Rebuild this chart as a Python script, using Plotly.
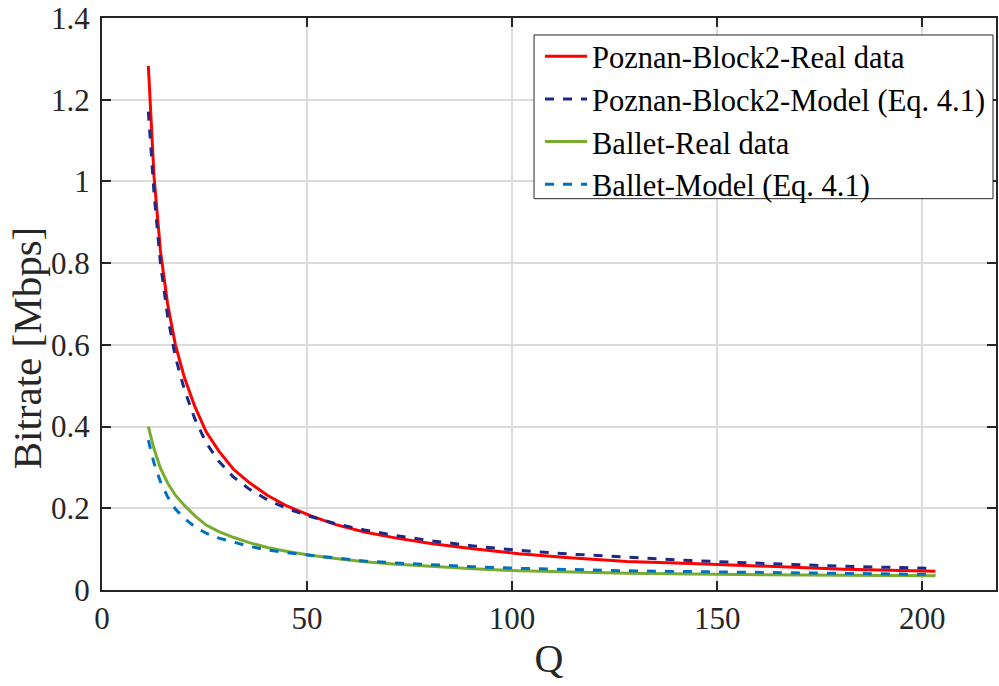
import plotly.graph_objects as go

q = [11.3, 12.7, 14.25, 16.0, 17.9, 20.1, 22.6, 25.4, 28.5, 32.0, 35.9, 40.3, 45.2,
     50.8, 57.0, 64.0, 71.8, 80.6, 90.5, 101.6, 114.0, 128.0, 143.7, 161.3, 181.0, 203.2]

poznan_real = [1.283, 1.01, 0.83, 0.70, 0.60, 0.52, 0.45, 0.387, 0.34, 0.296, 0.263, 0.232, 0.205,
               0.182, 0.160, 0.142, 0.127, 0.113, 0.101, 0.089, 0.079, 0.070, 0.065, 0.058, 0.051, 0.046]
poznan_model = [1.171, 0.97, 0.80, 0.67, 0.57, 0.49, 0.42, 0.36, 0.315, 0.277, 0.247, 0.221, 0.199,
                0.180, 0.162, 0.147, 0.133, 0.120, 0.108, 0.097, 0.088, 0.080, 0.072, 0.065, 0.058, 0.053]
ballet_real = [0.40, 0.345, 0.298, 0.262, 0.232, 0.207, 0.182, 0.159, 0.143, 0.129, 0.116, 0.104, 0.094,
               0.085, 0.077, 0.069, 0.063, 0.057, 0.052, 0.047, 0.044, 0.041, 0.039, 0.037, 0.036, 0.035]
ballet_model = [0.367, 0.31, 0.265, 0.228, 0.198, 0.175, 0.155, 0.139, 0.127, 0.117, 0.107, 0.098, 0.091,
                0.085, 0.078, 0.071, 0.066, 0.061, 0.057, 0.053, 0.050, 0.047, 0.045, 0.043, 0.040, 0.038]

names = ["Poznan-Block2-Real data", "Poznan-Block2-Model (Eq. 4.1)",
         "Ballet-Real data", "Ballet-Model (Eq. 4.1)"]
colors = ["#FF0000", "#1B2A87", "#77AC30", "#0072BD"]
dashes = ["solid", "dash", "solid", "dash"]
series = [poznan_real, poznan_model, ballet_real, ballet_model]

fig = go.Figure()
for nm, ys, c, d in zip(names, series, colors, dashes):
    fig.add_trace(go.Scatter(x=q, y=ys, mode="lines", name=nm,
                             line=dict(color=c, width=3, dash=d)))

font_family = "Liberation Serif, Times New Roman, serif"
axis_common = dict(showline=True, linecolor="#262626", linewidth=2, mirror="allticks",
                   ticks="inside", ticklen=9, tickwidth=2, tickcolor="#262626",
                   showgrid=True, gridcolor="#DCDCDC", gridwidth=1.5, zeroline=False,
                   ticklabeloverflow="allow",
                   tickfont=dict(family=font_family, size=31, color="#262626"))

# plot-area geometry (pixels in the 999x686 page)
L, R, T, B = 102, 998, 17, 590
def px_x(p): return (p - L) / (R - L)
def px_y(p): return (B - p) / (B - T)

fig.update_layout(
    width=999, height=686,
    margin=dict(l=L, r=999 - R, t=T, b=686 - B),
    paper_bgcolor="white", plot_bgcolor="white",
    font=dict(family=font_family, color="#262626"),
    xaxis=dict(range=[0, 218], tickvals=[0, 50, 100, 150, 200],
               title=dict(text="Q", font=dict(family=font_family, size=40), standoff=4),
               **axis_common),
    yaxis=dict(range=[0, 1.4], tickvals=[0, 0.2, 0.4, 0.6, 0.8, 1, 1.2, 1.4],
               ticktext=["0", "0.2", "0.4", "0.6", "0.8", "1", "1.2", "1.4"],
               ticklabelstandoff=4,
               **axis_common),
    legend=dict(x=px_x(993), y=px_y(29), xanchor="right", yanchor="top",
                bgcolor="rgba(0,0,0,0)", borderwidth=0,
                font=dict(family=font_family, size=30.5, color="black"),
                itemwidth=42),
    showlegend=True,
    shapes=[dict(type="rect", xref="paper", yref="paper",
                 x0=px_x(535), x1=px_x(995), y0=px_y(198), y1=px_y(34),
                 fillcolor="white", line=dict(color="#262626", width=1), layer="above")],
    annotations=[dict(text="Bitrate [Mbps]", textangle=-90, showarrow=False,
                      xref="paper", yref="paper", x=-0.083, y=0.424,
                      xanchor="center", yanchor="middle",
                      font=dict(family=font_family, size=41, color="#262626"))],
)

fig.write_html("out.html")
